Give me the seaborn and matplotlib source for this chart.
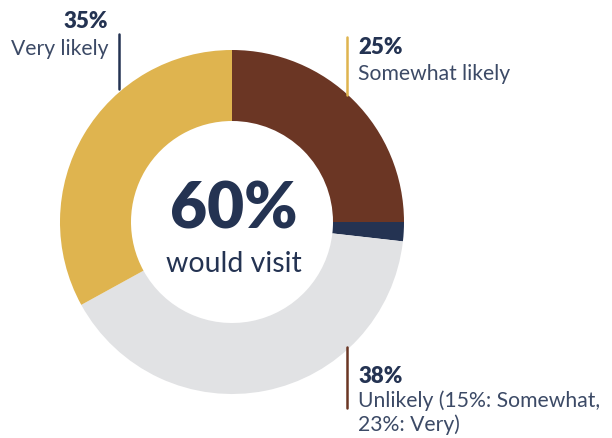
import matplotlib.pyplot as plt
import seaborn as sns

# -----------------------------
# DATA (wedge sizes as drawn in the chart)
# -----------------------------
segments = ["Somewhat likely", "Other", "Unlikely", "Very likely"]
shares = [25, 1.8, 40.2, 33]
colors = ["#6B3624", "#243352", "#E1E2E4", "#DFB44F"]

center_value = "60%"
center_label = "would visit"

callout_pcts = ["35%", "25%", "38%"]
callout_texts = ["Very likely", "Somewhat likely", "Unlikely (15%: Somewhat,\n23%: Very)"]

# -----------------------------
# STYLE
# -----------------------------
sns.set_theme(style="white")
plt.rcParams['font.family'] = ['Lato', 'DejaVu Sans']
navy = "#243352"
text_col = "#3C4A66"

fig = plt.figure(figsize=(6.12, 4.39), dpi=100)
ax = fig.add_axes([0, 0, 1, 1])

# -----------------------------
# DONUT (y axis is flipped, so angles are mirrored)
# -----------------------------
ax.pie(shares, colors=colors, startangle=-90, counterclock=True,
       center=(232, 223), radius=172, frame=True,
       wedgeprops=dict(width=71, linewidth=0))
ax.set_xlim(0, 612)
ax.set_ylim(439, 0)
ax.set_aspect("equal")
ax.axis("off")

ax.text(234, 210, center_value, ha="center", va="center",
        fontsize=46, fontweight="heavy", color=navy)
ax.text(234, 264, center_label, ha="center", va="center",
        fontsize=20.5, color=navy)

# -----------------------------
# CALLOUTS
# -----------------------------
fs = 15.2
fs_b = 16

ax.plot([119, 119], [35, 90], color=navy, lw=1.8)
ax.text(108, 22, callout_pcts[0], ha="right", va="center",
        fontsize=fs_b, fontweight="heavy", color=navy)
ax.text(108, 49, callout_texts[0], ha="right", va="center",
        fontsize=fs, color=text_col)

ax.plot([347, 347], [38, 96], color=colors[3], lw=1.8)
ax.text(358, 48, callout_pcts[1], ha="left", va="center",
        fontsize=fs_b, fontweight="heavy", color=navy)
ax.text(358, 74, callout_texts[1], ha="left", va="center",
        fontsize=fs, color=text_col)

ax.plot([347, 347], [348, 409], color=colors[0], lw=1.8)
ax.text(358, 377, callout_pcts[2], ha="left", va="center",
        fontsize=fs_b, fontweight="heavy", color=navy)
ax.text(358, 390, callout_texts[2], ha="left", va="top",
        fontsize=fs, color=text_col, linespacing=1.25)

fig.savefig("out.png", dpi=100)
